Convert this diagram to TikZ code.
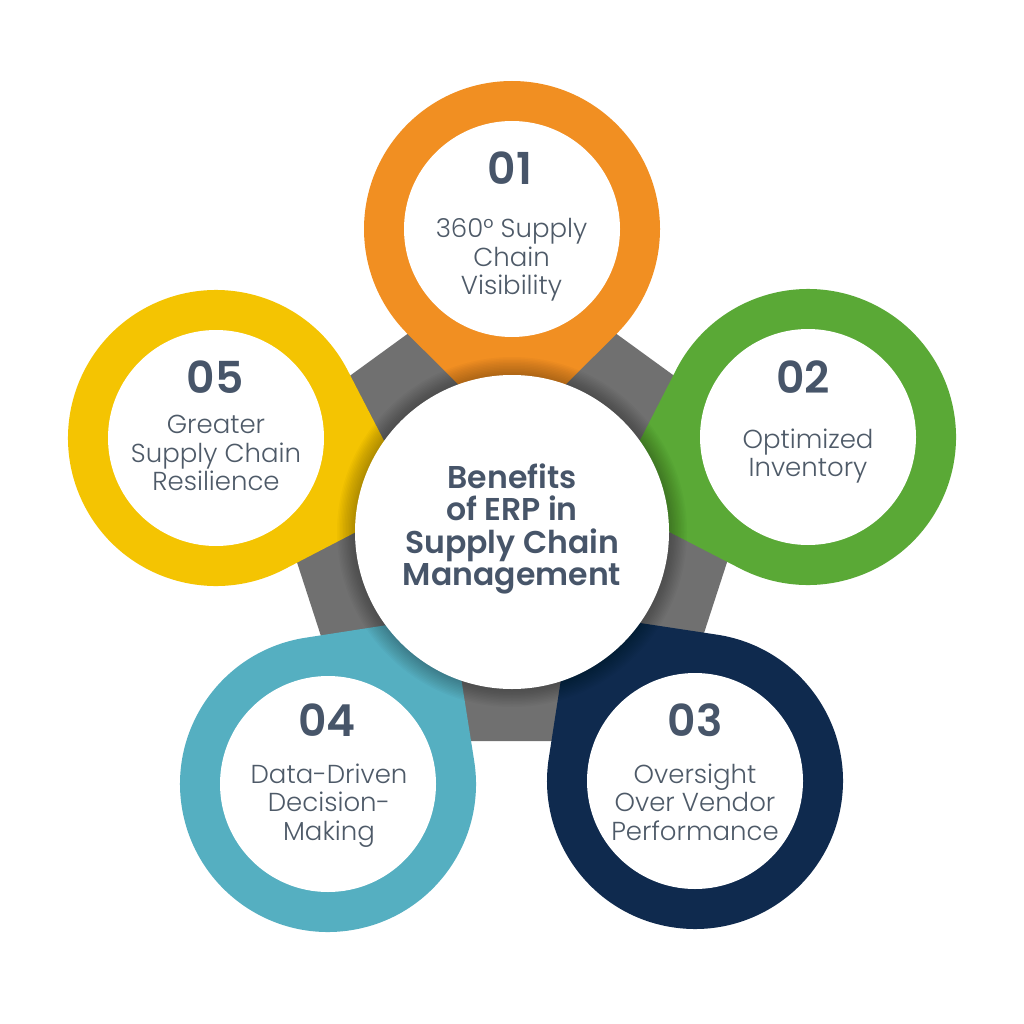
\documentclass[tikz,border=0pt]{standalone}
\usepackage{fontspec}
\setmainfont{Poppins}
\IfFontExistsTF{Poppins Light}{\newfontfamily\lightf{Poppins Light}}{\newcommand\lightf{\mdseries}}
\IfFontExistsTF{Poppins SemiBold}{\newfontfamily\semif{Poppins SemiBold}}{\newcommand\semif{\bfseries}}
\usetikzlibrary{calc}
\definecolor{orng}{HTML}{F18F22}
\definecolor{grn}{HTML}{5AA936}
\definecolor{nvy}{HTML}{0F2A4E}
\definecolor{tealc}{HTML}{55AFC1}
\definecolor{yllw}{HTML}{F4C402}
\definecolor{pgray}{HTML}{707070}
\definecolor{numc}{HTML}{475569}
\definecolor{txtc}{HTML}{4E5A68}
\newcommand\tdrop[3]{%
  \pgfmathsetmacro\tdA{#2+45}%
  \pgfmathsetmacro\tdB{#2+315}%
  \fill[#3] ($(#1)+(#2:209)$) -- ($(#1)+(\tdA:148)$) arc[start angle=\tdA, end angle=\tdB, radius=148] -- cycle;
  \fill[white] (#1) circle[radius=108];}
\begin{document}
\begin{tikzpicture}[x=1pt,y=1pt,
  num/.style={font=\fontsize{44}{44}\selectfont\semif, text=numc, inner sep=0},
  lbl/.style={font=\fontsize{26}{28.5}\selectfont\lightf, text=txtc, align=center, inner sep=0},
  ttl/.style={font=\fontsize{31.5}{32.3}\selectfont\semif, text=numc, align=center, inner sep=0}]
\useasboundingbox[fill=white] (0,0) rectangle (1024,-1024);
\coordinate (O) at (512,-532);
\coordinate (P) at (512,-525);
\coordinate (c1) at (512,-229);
\coordinate (c2) at (808,-437);
\coordinate (c3) at (695,-781);
\coordinate (c4) at (328,-784);
\coordinate (c5) at (216,-438);
\fill[pgray] ($(P)+(90:267)$) -- ($(P)+(162:267)$) -- ($(P)+(234:267)$) -- ($(P)+(306:267)$) -- ($(P)+(18:267)$) -- cycle;
\tdrop{c1}{-90}{orng}
\tdrop{c2}{-162.2}{grn}
\tdrop{c3}{126.3}{nvy}
\tdrop{c4}{53.9}{tealc}
\tdrop{c5}{-17.6}{yllw}
\foreach \i [evaluate=\i as \r using 157+\i*1.5] in {1,...,12}
  \fill[black,opacity=0.022] (O) circle[radius=\r];
\fill[white] (O) circle[radius=157];
\node[ttl] (title) at (512,-529) {Benefits\\of ERP in\\Supply Chain\\Management};
\node[num] (n1) at (510,-168.5) {01};
\node[lbl] (t1) at (511.5,-260) {360° Supply\\Chain\\Visibility};
\node[num] (n2) at (803,-377) {02};
\node[lbl] (t2) at (808,-456) {Optimized\\Inventory};
\node[num] (n3) at (695,-720) {03};
\node[lbl] (t3) at (695,-802) {Oversight\\Over Vendor\\Performance};
\node[num] (n4) at (327,-720) {04};
\node[lbl] (t4) at (329,-805.5) {Data-Driven\\Decision-\\Making};
\node[num] (n5) at (215,-377) {05};
\node[lbl] (t5) at (216,-453) {Greater\\Supply Chain\\Resilience};
\end{tikzpicture}
\end{document}
